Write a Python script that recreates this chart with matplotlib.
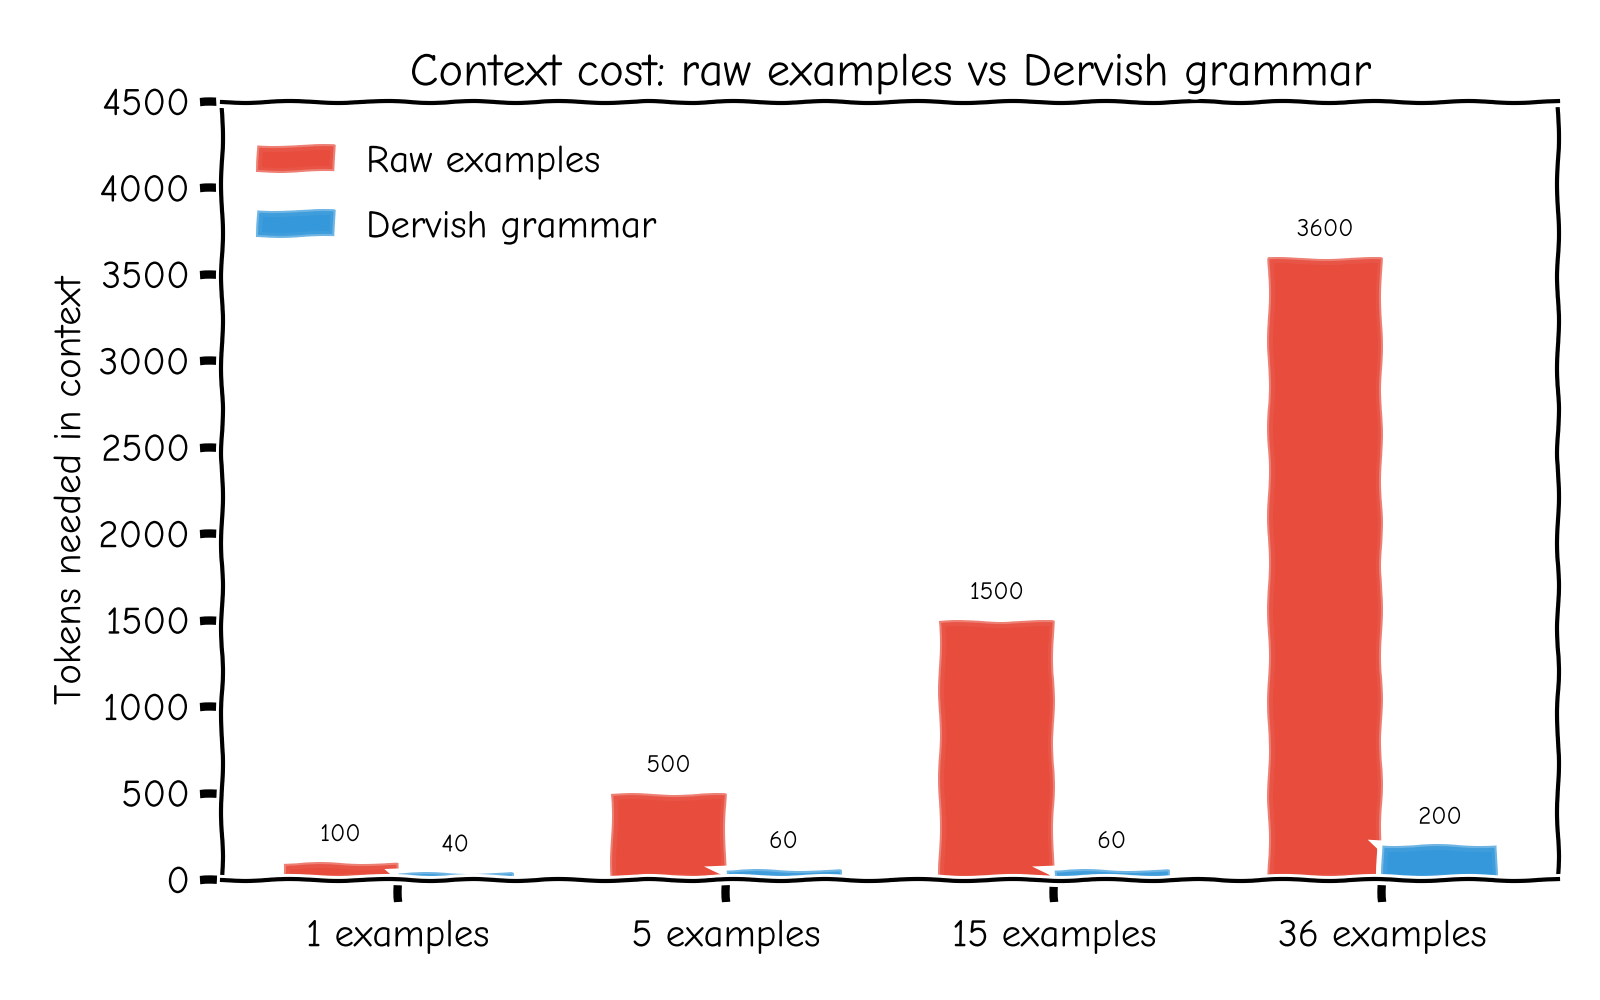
import matplotlib
matplotlib.use("Agg")
import matplotlib.pyplot as plt
import numpy as np

categories = ["1 examples", "5 examples", "15 examples", "36 examples"]
raw_tokens = [100, 500, 1500, 3600]
dervish_tokens = [40, 60, 60, 200]

plt.xkcd()
fig = plt.figure(figsize=(8, 5), dpi=200)
ax = fig.add_axes([0.1388, 0.12, 0.835, 0.778])

x = np.arange(len(categories))
w = 0.35
b1 = ax.bar(x - w / 2, raw_tokens, w, label="Raw examples",
            facecolor=(0.906, 0.298, 0.235, 0.95), edgecolor=(1, 1, 1, 0.25), linewidth=1.5)
b2 = ax.bar(x + w / 2, dervish_tokens, w, label="Dervish grammar",
            facecolor=(0.204, 0.596, 0.859, 0.95), edgecolor=(1, 1, 1, 0.25), linewidth=1.5)

for bars, vals in ((b1, raw_tokens), (b2, dervish_tokens)):
    for r, v in zip(bars, vals):
        ax.annotate(str(v), (r.get_x() + r.get_width() / 2, v), xytext=(0, 6),
                    textcoords="offset points", ha="center", va="bottom", fontsize=9)

ax.set_ylim(0, 4500)
ax.set_xticks(x)
ax.set_xticklabels(categories)
ax.tick_params(axis="x", pad=6.5)
ax.set_ylabel("Tokens needed in context")
ax.set_title("Context cost: raw examples vs Dervish grammar")
ax.legend(loc="upper left", bbox_to_anchor=(0.0, 0.99), frameon=False, labelspacing=0.8)

fig.savefig("out.png", dpi=200)
